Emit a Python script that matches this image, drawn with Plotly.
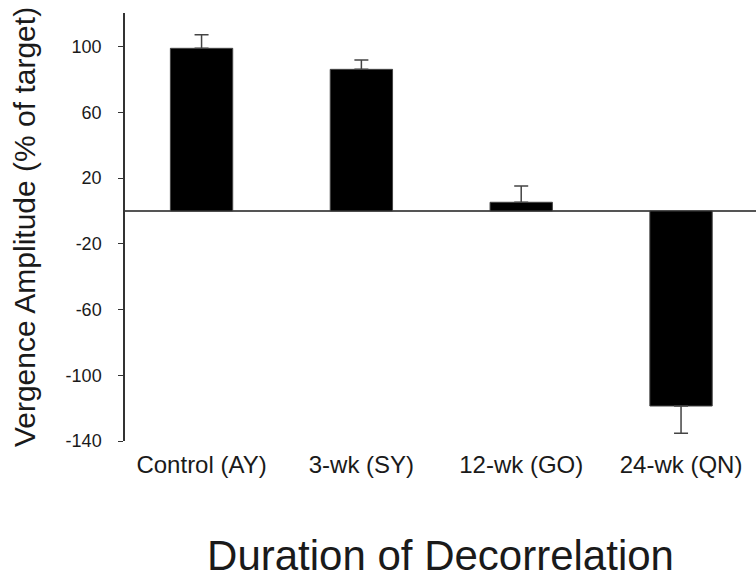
import plotly.graph_objects as go

categories = ["Control (AY)", "3-wk (SY)", "12-wk (GO)", "24-wk (QN)"]
amplitude = [99.0, 86.2, 5.3, -118.7]
err_plus = [8.3, 5.7, 9.9, 0.0]
err_minus = [0.0, 0.0, 0.0, 16.6]
y_ticks = [100, 60, 20, -20, -60, -100, -140]
y_tick_text = ["100", "60", "20", "-20", "-60", "-100", "-140"]

FONT = "Arial, 'Liberation Sans', sans-serif"
TXT = "#1a1a1a"

fig = go.Figure()
fig.add_trace(go.Bar(
    x=categories,
    y=amplitude,
    width=0.39,
    marker=dict(color="black", line=dict(color="#444444", width=1)),
    error_y=dict(type="data", symmetric=False, array=err_plus, arrayminus=err_minus,
                 color="#444444", thickness=1.5, width=7),
    showlegend=False,
))

fig.update_layout(
    width=756, height=579,
    margin=dict(l=125, r=0, t=13, b=138),
    paper_bgcolor="white", plot_bgcolor="white",
    font=dict(family=FONT, color=TXT),
    xaxis=dict(
        range=[-0.479, 3.469],
        automargin=False,
        showline=False, showgrid=False, ticks="",
        tickfont=dict(size=24, color=TXT),
        ticklabelstandoff=7,
        title=dict(text="Duration of Decorrelation", font=dict(size=42, color=TXT), standoff=67),
    ),
    yaxis=dict(
        range=[-140, 120.5],
        automargin=False,
        tickvals=y_ticks, ticktext=y_tick_text,
        showline=True, linecolor="#333333", linewidth=1.5,
        ticks="outside", ticklen=5, tickcolor="#333333", tickwidth=1,
        showgrid=False,
        zeroline=True, zerolinecolor="#555555", zerolinewidth=1.5,
        tickfont=dict(size=18, color=TXT),
        ticklabelstandoff=13,
        title=dict(text="Vergence Amplitude (% of target)", font=dict(size=30, color=TXT), standoff=21),
    ),
    bargap=0.6,
)

fig.write_html(
    "out.html",
    config={"displayModeBar": False},
    post_script="document.body.style.margin='0';document.body.style.overflow='hidden';",
)
